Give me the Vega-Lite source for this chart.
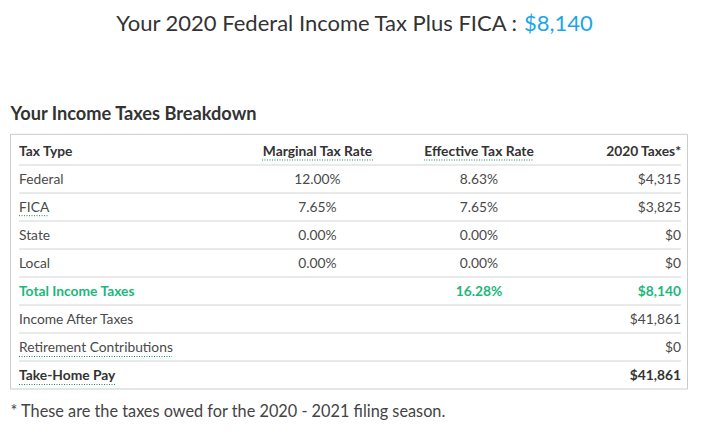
{
  "$schema": "https://vega.github.io/schema/vega-lite/v6.json",
  "width": 711,
  "height": 438,
  "autosize": {"type": "fit", "contains": "padding"},
  "padding": 0,
  "background": "#ffffff",
  "config": {"view": {"stroke": null}, "text": {"font": "Lato"}},
  "datasets": {
    "cells": [
      {"row": 0, "col": 0, "kind": "header", "text": "Tax Type"},
      {"row": 0, "col": 1, "kind": "header", "text": "Marginal Tax Rate"},
      {"row": 0, "col": 2, "kind": "header", "text": "Effective Tax Rate"},
      {"row": 0, "col": 3, "kind": "header", "text": "2020 Taxes*"},
      {"row": 1, "col": 0, "kind": "body", "text": "Federal"},
      {"row": 1, "col": 1, "kind": "body", "text": "12.00%"},
      {"row": 1, "col": 2, "kind": "body", "text": "8.63%"},
      {"row": 1, "col": 3, "kind": "body", "text": "$4,315"},
      {"row": 2, "col": 0, "kind": "body", "text": "FICA"},
      {"row": 2, "col": 1, "kind": "body", "text": "7.65%"},
      {"row": 2, "col": 2, "kind": "body", "text": "7.65%"},
      {"row": 2, "col": 3, "kind": "body", "text": "$3,825"},
      {"row": 3, "col": 0, "kind": "body", "text": "State"},
      {"row": 3, "col": 1, "kind": "body", "text": "0.00%"},
      {"row": 3, "col": 2, "kind": "body", "text": "0.00%"},
      {"row": 3, "col": 3, "kind": "body", "text": "$0"},
      {"row": 4, "col": 0, "kind": "body", "text": "Local"},
      {"row": 4, "col": 1, "kind": "body", "text": "0.00%"},
      {"row": 4, "col": 2, "kind": "body", "text": "0.00%"},
      {"row": 4, "col": 3, "kind": "body", "text": "$0"},
      {"row": 5, "col": 0, "kind": "total", "text": "Total Income Taxes"},
      {"row": 5, "col": 2, "kind": "total", "text": "16.28%"},
      {"row": 5, "col": 3, "kind": "total", "text": "$8,140"},
      {"row": 6, "col": 0, "kind": "body", "text": "Income After Taxes"},
      {"row": 6, "col": 3, "kind": "body", "text": "$41,861"},
      {"row": 7, "col": 0, "kind": "body", "text": "Retirement Contributions"},
      {"row": 7, "col": 3, "kind": "body", "text": "$0"},
      {"row": 8, "col": 0, "kind": "takehome", "text": "Take-Home Pay"},
      {"row": 8, "col": 3, "kind": "takehome", "text": "$41,861"}
    ]
  },
  "layer": [
    {
      "data": {"values": [{"part": "box"}]},
      "mark": {"type": "rect", "fill": "#ffffff", "stroke": "#cccccc", "strokeWidth": 1},
      "encoding": {
        "x": {"datum": -1, "type": "quantitative", "scale": {"domain": [-1, 0, 1, 2, 3, 4], "range": [10.5, 19, 317.5, 479, 681, 687.5], "zero": false, "nice": false}, "axis": null},
        "x2": {"datum": 4},
        "y": {"datum": -1.096, "type": "quantitative", "scale": {"domain": [-5.892857, 9.75], "reverse": true, "zero": false, "nice": false}, "axis": null},
        "y2": {"datum": 8.0}
      }
    },
    {
      "data": {"name": "cells"},
      "transform": [{"filter": "datum.col == 0 && datum.row < 8"}],
      "mark": {"type": "rule", "stroke": "#d4d4d4", "strokeWidth": 1},
      "encoding": {
        "y": {"field": "row", "type": "quantitative"},
        "x": {"datum": 0},
        "x2": {"datum": 3}
      }
    },
    {
      "data": {"values": [{"term": "Marginal Tax Rate"}]},
      "mark": {"type": "rule", "stroke": "#0f8a55", "strokeWidth": 1, "strokeDash": [1, 1.5]},
      "encoding": {"x": {"datum": 0.814}, "x2": {"datum": 1.344}, "y": {"datum": -0.179}}
    },
    {
      "data": {"values": [{"term": "Effective Tax Rate"}]},
      "mark": {"type": "rule", "stroke": "#0f8a55", "strokeWidth": 1, "strokeDash": [1, 1.5]},
      "encoding": {"x": {"datum": 1.659}, "x2": {"datum": 2.267}, "y": {"datum": -0.179}}
    },
    {
      "data": {"values": [{"term": "FICA"}]},
      "mark": {"type": "rule", "stroke": "#0f8a55", "strokeWidth": 1, "strokeDash": [1, 1.5]},
      "encoding": {"x": {"datum": 0}, "x2": {"datum": 0.1005}, "y": {"datum": 1.81}}
    },
    {
      "data": {"values": [{"term": "Retirement Contributions"}]},
      "mark": {"type": "rule", "stroke": "#0f8a55", "strokeWidth": 1, "strokeDash": [1, 1.5]},
      "encoding": {"x": {"datum": 0}, "x2": {"datum": 0.5126}, "y": {"datum": 6.84}}
    },
    {
      "data": {"values": [{"term": "Take-Home Pay"}]},
      "mark": {"type": "rule", "stroke": "#0f8a55", "strokeWidth": 1, "strokeDash": [1, 1.5]},
      "encoding": {"x": {"datum": 0}, "x2": {"datum": 0.325}, "y": {"datum": 7.84}}
    },
    {
      "data": {"name": "cells"},
      "transform": [{"filter": "datum.col == 0 && datum.kind == 'body'"}],
      "mark": {"type": "text", "align": "left", "baseline": "middle", "dy": -13.5, "fontSize": 13.8, "fontWeight": "normal"},
      "encoding": {
        "x": {"field": "col", "type": "quantitative"},
        "y": {"field": "row", "type": "quantitative"},
        "text": {"field": "text"},
        "color": {"field": "kind", "type": "nominal", "scale": {"domain": ["header", "body", "total", "takehome"], "range": ["#333333", "#4a4a4a", "#1db77b", "#333333"]}, "legend": null}
      }
    },
    {
      "data": {"name": "cells"},
      "transform": [{"filter": "datum.col == 0 && datum.kind != 'body'"}],
      "mark": {"type": "text", "align": "left", "baseline": "middle", "dy": -13.5, "fontSize": 13.8, "fontWeight": "bold"},
      "encoding": {
        "x": {"field": "col", "type": "quantitative"},
        "y": {"field": "row", "type": "quantitative"},
        "text": {"field": "text"},
        "color": {"field": "kind", "type": "nominal", "legend": null}
      }
    },
    {
      "data": {"name": "cells"},
      "transform": [{"filter": "(datum.col == 1 || datum.col == 2) && datum.kind == 'body'"}],
      "mark": {"type": "text", "align": "center", "baseline": "middle", "dy": -13.5, "fontSize": 13.8, "fontWeight": "normal"},
      "encoding": {
        "x": {"field": "col", "type": "quantitative"},
        "y": {"field": "row", "type": "quantitative"},
        "text": {"field": "text"},
        "color": {"field": "kind", "type": "nominal", "legend": null}
      }
    },
    {
      "data": {"name": "cells"},
      "transform": [{"filter": "(datum.col == 1 || datum.col == 2) && datum.kind != 'body'"}],
      "mark": {"type": "text", "align": "center", "baseline": "middle", "dy": -13.5, "fontSize": 13.8, "fontWeight": "bold"},
      "encoding": {
        "x": {"field": "col", "type": "quantitative"},
        "y": {"field": "row", "type": "quantitative"},
        "text": {"field": "text"},
        "color": {"field": "kind", "type": "nominal", "legend": null}
      }
    },
    {
      "data": {"name": "cells"},
      "transform": [{"filter": "datum.col == 3 && datum.kind == 'body'"}],
      "mark": {"type": "text", "align": "right", "baseline": "middle", "dy": -13.5, "fontSize": 13.8, "fontWeight": "normal"},
      "encoding": {
        "x": {"field": "col", "type": "quantitative"},
        "y": {"field": "row", "type": "quantitative"},
        "text": {"field": "text"},
        "color": {"field": "kind", "type": "nominal", "legend": null}
      }
    },
    {
      "data": {"name": "cells"},
      "transform": [{"filter": "datum.col == 3 && datum.kind != 'body'"}],
      "mark": {"type": "text", "align": "right", "baseline": "middle", "dy": -13.5, "fontSize": 13.8, "fontWeight": "bold"},
      "encoding": {
        "x": {"field": "col", "type": "quantitative"},
        "y": {"field": "row", "type": "quantitative"},
        "text": {"field": "text"},
        "color": {"field": "kind", "type": "nominal", "legend": null}
      }
    },
    {
      "data": {"values": [{"text": "Your 2020 Federal Income Tax Plus FICA :"}]},
      "mark": {"type": "text", "align": "right", "baseline": "middle", "fontSize": 22, "fontWeight": "normal", "color": "#333333"},
      "encoding": {"x": {"datum": 2.188}, "y": {"datum": -5.04}, "text": {"field": "text"}}
    },
    {
      "data": {"values": [{"text": "$8,140"}]},
      "mark": {"type": "text", "align": "left", "baseline": "middle", "fontSize": 22, "fontWeight": "normal", "color": "#1aa6ea"},
      "encoding": {"x": {"datum": 2.223}, "y": {"datum": -5.04}, "text": {"field": "text"}}
    },
    {
      "data": {"values": [{"text": "Your Income Taxes Breakdown"}]},
      "mark": {"type": "text", "align": "left", "baseline": "middle", "fontSize": 18.2, "fontWeight": "bold", "color": "#333333"},
      "encoding": {"x": {"datum": -1}, "y": {"datum": -1.8}, "text": {"field": "text"}}
    },
    {
      "data": {"values": [{"text": "* These are the taxes owed for the 2020 - 2021 filing season."}]},
      "mark": {"type": "text", "align": "left", "baseline": "middle", "fontSize": 16.3, "fontWeight": "normal", "color": "#444444"},
      "encoding": {"x": {"datum": -1}, "y": {"datum": 8.821}, "text": {"field": "text"}}
    }
  ]
}
